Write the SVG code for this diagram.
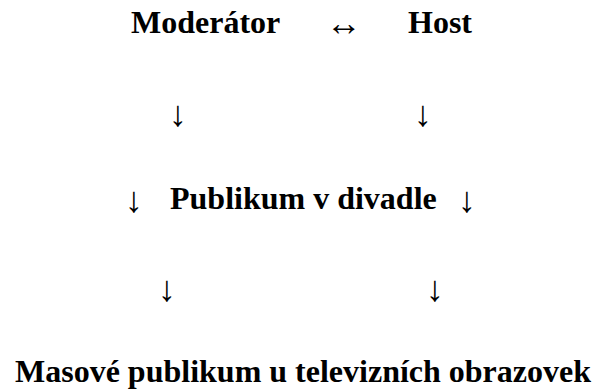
<svg xmlns="http://www.w3.org/2000/svg" width="593" height="389" viewBox="0 0 593 389">
<style>
.t{font-family:'Liberation Serif','Times New Roman',Times,serif;font-weight:700;font-size:32px;fill:#000}
.a{font-family:'Liberation Serif','DejaVu Serif',serif;font-weight:normal;font-size:36px;fill:#000}
</style>
<rect width="593" height="389" fill="#fff"/>
<g id="moderator"><text class="t" x="131" y="33">Moderátor</text></g>
<g id="host"><text class="t" x="408" y="33">Host</text></g>
<g id="publikum-divadlo"><text class="t" x="170" y="209">Publikum v divadle</text></g>
<g id="masove-publikum"><text class="t" x="15" y="382">Masové publikum u televizních obrazovek</text></g>
<g id="connectors">
<text class="a" x="344" y="35" text-anchor="middle">↔</text>
<text class="a" x="178" y="126" text-anchor="middle">↓</text>
<text class="a" x="423" y="126" text-anchor="middle">↓</text>
<text class="a" x="134" y="212" text-anchor="middle">↓</text>
<text class="a" x="467" y="212" text-anchor="middle">↓</text>
<text class="a" x="167" y="301" text-anchor="middle">↓</text>
<text class="a" x="435" y="301" text-anchor="middle">↓</text>
</g>
</svg>
